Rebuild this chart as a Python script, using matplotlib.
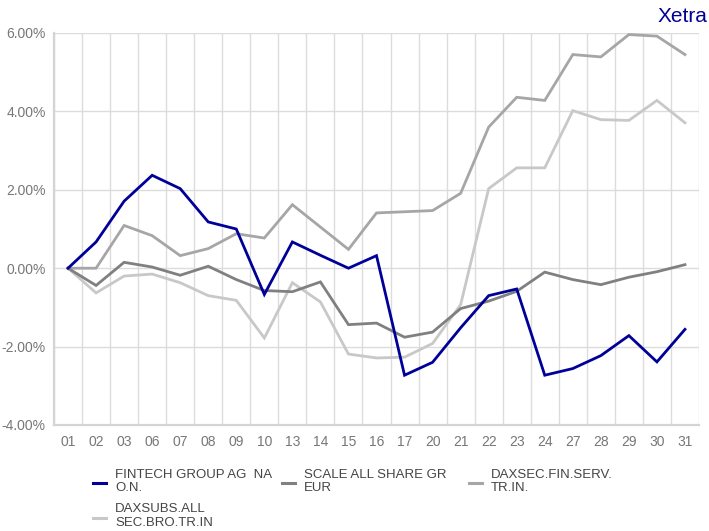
import matplotlib
matplotlib.use("Agg")
import matplotlib.pyplot as plt
from matplotlib.lines import Line2D
from matplotlib.ticker import FuncFormatter, MultipleLocator

days = ["01", "02", "03", "06", "07", "08", "09", "10", "13", "14", "15", "16",
        "17", "20", "21", "22", "23", "24", "27", "28", "29", "30", "31"]

fintech = [0.00, 0.67, 1.71, 2.37, 2.03, 1.18, 1.00, -0.67, 0.67, 0.33, 0.00, 0.32,
           -2.73, -2.40, -1.52, -0.70, -0.53, -2.73, -2.56, -2.23, -1.72, -2.39, -1.56]
scale = [0.00, -0.44, 0.15, 0.03, -0.18, 0.05, -0.29, -0.57, -0.60, -0.35, -1.44, -1.40,
         -1.76, -1.63, -1.03, -0.84, -0.59, -0.10, -0.29, -0.42, -0.23, -0.09, 0.09]
daxsec = [0.00, 0.00, 1.09, 0.83, 0.32, 0.50, 0.88, 0.77, 1.62, 1.05, 0.48, 1.41,
          1.44, 1.47, 1.91, 3.60, 4.36, 4.28, 5.45, 5.39, 5.96, 5.92, 5.45]
daxsubs = [0.00, -0.63, -0.20, -0.15, -0.37, -0.70, -0.82, -1.78, -0.37, -0.86, -2.19, -2.29,
           -2.27, -1.92, -0.93, 2.03, 2.56, 2.56, 4.02, 3.79, 3.77, 4.28, 3.71]

names = ["FINTECH GROUP AG  NA\nO.N.", "SCALE ALL SHARE GR\nEUR",
         "DAXSEC.FIN.SERV.\nTR.IN.", "DAXSUBS.ALL\nSEC.BRO.TR.IN"]
series = [fintech, scale, daxsec, daxsubs]
colors = ["#000099", "#808080", "#a6a6a6", "#c8c8c8"]

plt.rcParams["font.family"] = ["Liberation Sans", "DejaVu Sans"]

fig = plt.figure(figsize=(7.09, 5.31), dpi=100)
ax = fig.add_axes([54/709, 1-425/531, (699-54)/709, (425-33)/531])

x = list(range(len(days)))
order = [3, 2, 1, 0]
for i in order:
    ax.plot(x, series[i], color=colors[i], lw=2.0, solid_joinstyle="miter", zorder=3 + (3 - i))

ax.set_xlim(-0.5, len(days) - 0.5)
ax.set_ylim(-4, 6)
ax.yaxis.set_major_locator(MultipleLocator(2))
ax.yaxis.set_major_formatter(FuncFormatter(lambda v, p: f"{v:.2f}%"))
ax.set_xticks(x)
ax.set_xticklabels(days)
ax.set_xticks([i + 0.5 for i in range(-1, len(days))], minor=True)
ax.grid(True, which="minor", axis="x", color="#dcdcdc", lw=1.0)
ax.grid(True, which="major", axis="y", color="#dcdcdc", lw=1.0)
ax.tick_params(which="both", length=0)
ax.tick_params(axis="both", labelsize=10, labelcolor="#777777")
ax.tick_params(axis="x", pad=7)
ax.tick_params(axis="y", pad=6)
for s in ["top", "right"]:
    ax.spines[s].set_visible(False)
for s in ["left", "bottom"]:
    ax.spines[s].set_color("#d4d4d4")
    ax.spines[s].set_linewidth(1.6)
ax.set_axisbelow(True)

fig.text(707/709, 1-16/531, "Xetra", color="#000099", fontsize=15,
         ha="right", va="center")

# legend (fixed-width columns)
col_x = [93, 282, 469]
row_y = [483, 518]
text_y = [481.5, 516]
for k, (nm, c) in enumerate(zip(names, colors)):
    cx = col_x[k % 3]
    ry = row_y[k // 3]
    fig.add_artist(Line2D([cx/709, (cx+13)/709], [1-ry/531, 1-ry/531],
                          color=c, lw=2.2, transform=fig.transFigure))
    fig.text((cx+22)/709, 1-text_y[k // 3]/531, nm, fontsize=9.5,
             color="#444444", ha="left", va="center", linespacing=1.2)

fig.savefig("out.png", dpi=100)
